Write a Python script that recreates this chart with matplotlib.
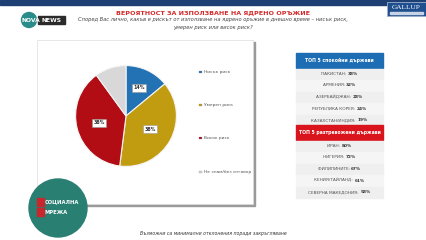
import numpy as np
import matplotlib.pyplot as plt
from matplotlib.patches import Rectangle, Circle

# pie data
labels = ['Нисък риск', 'Умерен риск', 'Висок риск', 'Не знам/без отговор']
values = [14, 38, 38, 10]
colors = ['#2272b4', '#c29c10', '#b20c14', '#d8d8d8']

# side tables
calm_title = 'ТОП 5 спокойни държави'
calm_countries = ['ПАКИСТАН', 'АРМЕНИЯ', 'АЗЕРБАЙДЖАН', 'РЕПУБЛИКА КОРЕЯ', 'КАЗАХСТАН/ИНДИЯ']
calm_values = [38, 32, 28, 24, 19]
worried_title = 'ТОП 5 разтревожени държави'
worried_countries = ['ИРАН', 'НИГЕРИЯ', 'ФИЛИПИНИТЕ', 'КЕНИЯ/ТАЙЛАНД', 'СЕВЕРНА МАКЕДОНИЯ']
worried_values = [80, 72, 67, 61, 58]

title = 'ВЕРОЯТНОСТ ЗА ИЗПОЛЗВАНЕ НА ЯДРЕНО ОРЪЖИЕ'
subtitle = ('Според Вас лично, какъв е рискът от използване на ядрено оръжие в днешно време – нисък риск,\n'
            'умерен риск или висок риск?')
footer = 'Възможни са минимални отклонения поради закръгляване'

W, H = 427, 240
fig = plt.figure(figsize=(W / 100, H / 100), dpi=100)
fig.patch.set_facecolor('white')

# background axes in pixel coords (y down)
bg = fig.add_axes([0, 0, 1, 1])
bg.set_xlim(0, W)
bg.set_ylim(H, 0)
bg.axis('off')
renderer = fig.canvas.get_renderer()

# top band
bg.add_patch(Rectangle((0, 0), W, 5, color='#1d3f73', zorder=1))

# chart box with shadow
bg.add_patch(Rectangle((39, 42), 216, 164, color='#9a9a9a', zorder=1))
bg.add_patch(Rectangle((37, 40), 216, 164, facecolor='white', edgecolor='#dddddd', lw=0.5, zorder=2))

bg.text(213, 13, title, color='#d22a2a', fontsize=4.6, fontweight='bold', ha='center', va='center')
bg.text(213, 23.5, subtitle, color='#444444', fontsize=3.7, style='italic', ha='center', va='center',
        linespacing=1.5)
bg.text(213, 234, footer, color='#333333', fontsize=3.3, style='italic', ha='center', va='center')

# nova news logo
bg.add_patch(Circle((29, 20), 7.5, color='#2a8c8a', zorder=3))
bg.text(22, 20, 'NOVA', color='white', fontsize=4.3, fontweight='bold', ha='left', va='center', zorder=4)
bg.add_patch(Rectangle((38, 16), 27, 8, color='#2b2b2b', zorder=3))
bg.text(51.5, 20, 'NEWS', color='white', fontsize=4.3, fontweight='bold', ha='center', va='center', zorder=4)

# gallup logo
bg.add_patch(Rectangle((387, 2), 39, 14, facecolor='#1f4f8f', edgecolor='#9bb0cc', lw=0.6, zorder=3))
bg.text(406.5, 7.5, 'GALLUP', color='white', fontsize=5.2, family='Liberation Serif',
        ha='center', va='center', zorder=4)
bg.add_patch(Rectangle((390, 11.5), 33, 2, color='#c8d4e6', zorder=4))

# social network logo
bg.add_patch(Circle((58, 208), 29, color='#2a7f73', zorder=5))
bg.text(45, 202, 'СОЦИАЛНА', color='white', fontsize=3.8, fontweight='bold', ha='left', va='center', zorder=6)
bg.text(45, 212, 'МРЕЖА', color='white', fontsize=3.8, fontweight='bold', ha='left', va='center', zorder=6)
bg.add_patch(Rectangle((37, 198), 7, 8, color='#c8282d', zorder=6))
bg.add_patch(Rectangle((37, 208), 7, 8, color='#c8282d', zorder=6))


def draw_table(y0, head, head_color, names, vals):
    bg.add_patch(Rectangle((296, y0), 87, 15, color=head_color, zorder=3))
    bg.text(339.5, y0 + 7.5, head, color='white', fontsize=3.3, fontweight='bold',
            ha='center', va='center', zorder=4)
    for i, (n, v) in enumerate(zip(names, vals)):
        yc = y0 + 21 + i * 11.5
        bg.add_patch(Rectangle((296, yc - 5.5), 87, 11, color='#efefef' if i % 2 == 0 else '#f5f5f5', zorder=3))
        t1 = bg.text(0, yc, f'{n}: ', color='#555555', fontsize=3.1, ha='left', va='center', zorder=4)
        t2 = bg.text(0, yc, f'{v}%', color='#333333', fontsize=3.1, fontweight='bold',
                     ha='left', va='center', zorder=4)
        w1 = t1.get_window_extent(renderer).width
        w2 = t2.get_window_extent(renderer).width
        x0 = 339.5 - (w1 + w2) / 2
        t1.set_x(x0)
        t2.set_x(x0 + w1)


draw_table(53, calm_title, '#1c6db3', calm_countries, calm_values)
draw_table(125, worried_title, '#d9141c', worried_countries, worried_values)

# pie
cx, cy, r = 126, 116, 63
ax = fig.add_axes([(cx - r) / W, (H - cy - r) / H, 2 * r / W, 2 * r / H])
wedges, _ = ax.pie(values, colors=colors, startangle=90, counterclock=False,
                   wedgeprops=dict(edgecolor='#f4f4f4', linewidth=0.8))
ax.set_aspect('equal')
for i, w in enumerate(wedges[:3]):
    ang = np.deg2rad((w.theta1 + w.theta2) / 2)
    rr = 0.62 if i == 0 else 0.55
    ax.text(rr * np.cos(ang), rr * np.sin(ang), f'{values[i]}%', fontsize=3.4, fontweight='bold',
            color='#333333', ha='center', va='center',
            bbox=dict(boxstyle='square,pad=0.3', facecolor='white', edgecolor='#999999', lw=0.4))

# legend
leg_y = [72, 105, 138, 172]
for lab, c, y in zip(labels, colors, leg_y):
    bg.add_patch(Rectangle((199.5, y - 1.3), 2.6, 2.6, facecolor=c, edgecolor='#888888', lw=0.2, zorder=4))
    bg.text(204, y, lab, color='#555555', fontsize=3.2, ha='left', va='center', zorder=4)

fig.savefig('out.png', dpi=100)
